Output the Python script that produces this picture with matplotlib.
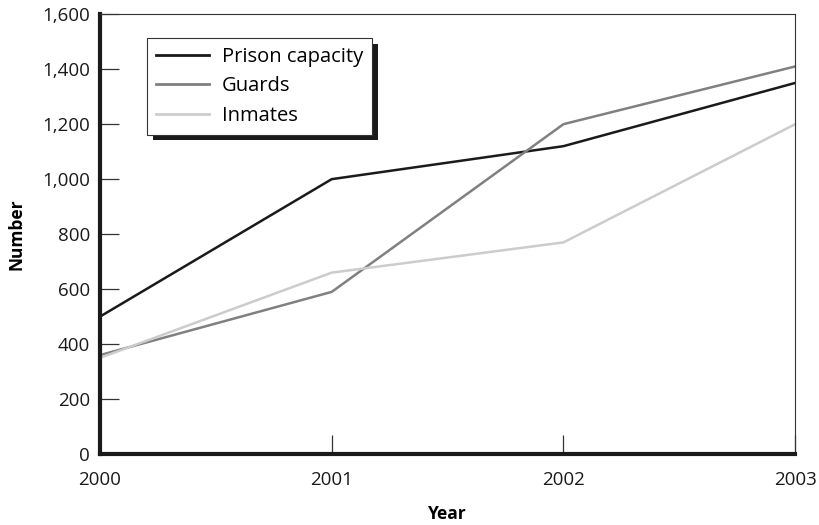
import matplotlib.pyplot as plt
from matplotlib.ticker import FuncFormatter

# Datos del gráfico
anos = [2000, 2001, 2002, 2003]
capacidade = [500, 1000, 1120, 1350]
guardas = [360, 590, 1200, 1410]
presos = [350, 660, 770, 1200]

plt.rcParams['font.family'] = ['Open Sans', 'DejaVu Sans']

fig = plt.figure(figsize=(8.19, 5.25), dpi=100)
ax = fig.add_axes([0.122, 0.135, 0.849, 0.838])

ax.plot(anos, capacidade, color='#1a1a1a', lw=1.8, label='Prison capacity')
ax.plot(anos, guardas, color='#808080', lw=1.8, label='Guards')
ax.plot(anos, presos, color='#cccccc', lw=1.8, label='Inmates')

ax.set_xlim(2000, 2003)
ax.set_ylim(0, 1600)
ax.set_xticks(anos)
ax.set_yticks(range(0, 1601, 200))
ax.yaxis.set_major_formatter(FuncFormatter(lambda v, p: f'{int(v):,}'))

# Eixos: esquerdo e inferior grossos
for lado in ['left', 'bottom']:
    ax.spines[lado].set_linewidth(3)
    ax.spines[lado].set_color('#1a1a1a')
for lado in ['top', 'right']:
    ax.spines[lado].set_linewidth(0.8)
    ax.spines[lado].set_color('#333333')

ax.tick_params(direction='in', length=14, width=0.9, color='#333333',
               labelsize=13.5, labelcolor='#1a1a1a')
ax.tick_params(axis='x', pad=12)
ax.tick_params(axis='y', pad=7)

ax.set_xlabel('Year', fontsize=12.5, fontweight='bold', labelpad=12)
ax.set_ylabel('Number', fontsize=12.5, fontweight='bold', labelpad=12)

leg = ax.legend(loc='upper left', bbox_to_anchor=(0.068, 0.945), borderaxespad=0,
                fancybox=False, fontsize=14.5, handlelength=2.6, handletextpad=0.65,
                labelspacing=0.45, borderpad=0.45,
                shadow={'ox': 4, 'oy': -4, 'facecolor': '#1a1a1a', 'edgecolor': 'none', 'alpha': 1})
leg.get_frame().set_edgecolor('#333333')
leg.get_frame().set_linewidth(0.8)
leg.get_frame().set_alpha(1)
for linha in leg.get_lines():
    linha.set_linewidth(2)

fig.savefig('out.png', dpi=100)
